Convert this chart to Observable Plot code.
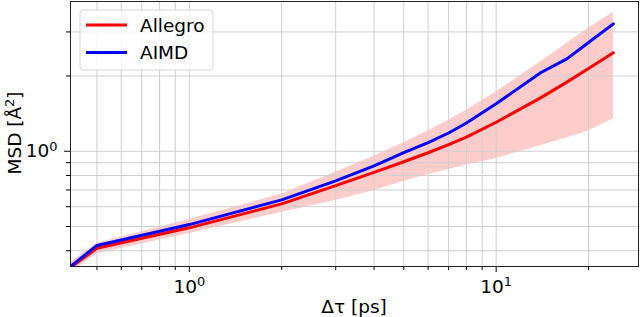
<!DOCTYPE html>
<html><head><meta charset="utf-8">
<script src="https://cdn.jsdelivr.net/npm/d3@7"></script>
<script src="https://cdn.jsdelivr.net/npm/@observablehq/plot@0.6"></script>
<style>
body{margin:0;background:#fff}
svg{font-family:"DejaVu Sans",sans-serif}
</style>
</head><body><div id="chart"></div>
<script>
// Lag time Δτ [ps]
const times = [0.41, 0.5, 1, 2, 3, 4, 5, 6, 7, 8, 10, 14, 17, 20, 24.1];
// MSD [Å²]
const aimd = [0.346, 0.420, 0.509, 0.639, 0.761, 0.874, 0.988, 1.083, 1.183, 1.297, 1.548, 2.065, 2.34, 2.72, 3.23];
const allegro = [0.343, 0.409, 0.494, 0.616, 0.729, 0.823, 0.908, 0.986, 1.062, 1.139, 1.306, 1.638, 1.89, 2.142, 2.475];
const allegroHi = [0.359, 0.429, 0.533, 0.675, 0.824, 0.956, 1.081, 1.204, 1.329, 1.457, 1.727, 2.285, 2.699, 3.108, 3.597];
const allegroLo = [0.327, 0.389, 0.469, 0.570, 0.635, 0.696, 0.756, 0.807, 0.845, 0.881, 0.935, 1.054, 1.129, 1.204, 1.348];

const seriesNames = ["Allegro", "AIMD"];
const seriesColors = ["#ff0000", "#0000ff"];

const xMajor = [1, 10];
const xMajorExp = ["0", "1"];
const xMinor = [0.5, 0.6, 0.7, 0.8, 0.9, 2, 3, 4, 5, 6, 7, 8, 9, 20];
const yMajor = [1];
const yMajorExp = ["0"];
const yMinor = [0.4, 0.5, 0.6, 0.7, 0.8, 0.9, 2, 3];

const xLabel = "Δτ [ps]";
const yLabelBase = "MSD [Å";
const yLabelExp = "2";
const yLabelEnd = "]";

const FS = 18.5;
const data = times.map((t, i) => ({t, aimd: aimd[i], allegro: allegro[i], hi: allegroHi[i], lo: allegroLo[i]}));
const gridColor = "#cfcfcf";

const chart = Plot.plot({
  width: 640, height: 317,
  marginLeft: 70, marginRight: 2, marginTop: 1, marginBottom: 51,
  style: {fontFamily: "DejaVu Sans, sans-serif", fontSize: FS + "px", background: "#fff", overflow: "visible", color: "#000"},
  x: {type: "log", domain: [0.41, 29.1]},
  y: {type: "log", domain: [0.346, 3.97]},
  marks: [
    Plot.areaY(data, {x: "t", y1: "lo", y2: "hi", fill: "#ffcccc", clip: true}),
    Plot.ruleX(xMajor.concat(xMinor), {stroke: gridColor, strokeWidth: 1}),
    Plot.ruleY(yMajor.concat(yMinor), {stroke: gridColor, strokeWidth: 1}),
    Plot.lineY(data, {x: "t", y: "allegro", stroke: seriesColors[0], strokeWidth: 3, clip: true}),
    Plot.lineY(data, {x: "t", y: "aimd", stroke: seriesColors[1], strokeWidth: 3, clip: true}),
    Plot.axisX({ticks: xMajor, tickFormat: () => "10", tickSize: 6, tickPadding: 7, label: null, fontSize: FS}),
    Plot.axisX({ticks: xMinor, tickFormat: () => "", tickSize: 4, label: null}),
    Plot.axisY({ticks: yMajor, tickFormat: () => "10", tickSize: 6, tickPadding: 7, label: null, fontSize: FS}),
    Plot.axisY({ticks: yMinor, tickFormat: () => "", tickSize: 4, label: null}),
    Plot.frame({stroke: "#222"})
  ]
});
document.getElementById("chart").appendChild(chart);

const svg = d3.select(chart);

// superscript exponents on the major tick labels
function addExp(selector, exps) {
  svg.selectAll(selector).filter(function() { return this.textContent === "10"; })
    .each(function(d, i) {
      const t = d3.select(this).attr("font-size", FS);
      t.append("tspan").attr("font-size", FS * 0.7).attr("dy", -6.5).text(exps[i]);
    });
}
addExp('g[aria-label="x-axis tick label"] text', xMajorExp);
addExp('g[aria-label="y-axis tick label"] text', yMajorExp);

// axis labels
svg.append("text").attr("x", 354).attr("y", 313).attr("text-anchor", "middle")
  .attr("font-size", FS).attr("fill", "#000").text(xLabel);
const yl = svg.append("text").attr("transform", "translate(21,133) rotate(-90)")
  .attr("text-anchor", "middle").attr("font-size", FS).attr("fill", "#000");
yl.append("tspan").text(yLabelBase);
yl.append("tspan").attr("font-size", FS * 0.7).attr("dy", -7).text(yLabelExp);
yl.append("tspan").attr("dy", 7).text(yLabelEnd);

// Legend (upper left, matplotlib style)
const lg = svg.append("g").attr("transform", "translate(80,10)");
lg.append("rect").attr("x", 0).attr("y", 0).attr("width", 133).attr("height", 60)
  .attr("rx", 3).attr("fill", "#fff").attr("fill-opacity", 0.8).attr("stroke", "#d6d6d6");
seriesNames.forEach((name, i) => {
  const yy = 15 + i * 27.5;
  lg.append("line").attr("x1", 6).attr("x2", 47).attr("y1", yy).attr("y2", yy)
    .attr("stroke", seriesColors[i]).attr("stroke-width", 3);
  lg.append("text").attr("x", 60).attr("y", yy).attr("dy", "0.36em").attr("text-anchor", "start")
    .attr("font-size", FS).attr("fill", "#000").text(name);
});
</script>
</body></html>
